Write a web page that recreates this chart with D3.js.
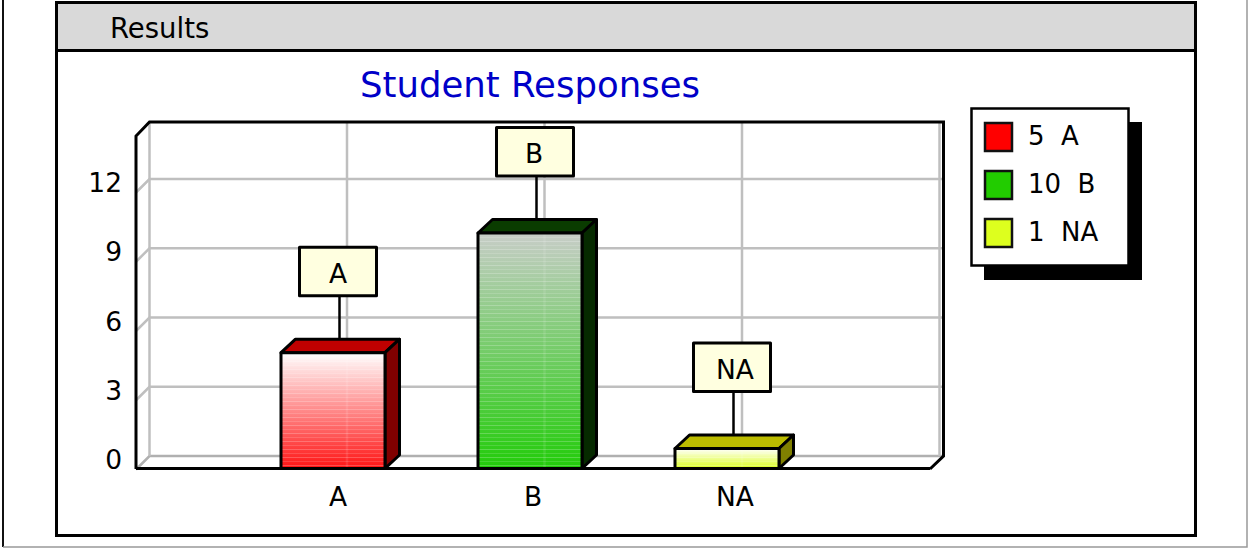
<!DOCTYPE html>
<html><head><meta charset="utf-8">
<script src="https://cdn.jsdelivr.net/npm/d3@7"></script>
<style>html,body{margin:0;padding:0;background:#fff;overflow:hidden}svg{display:block}text{font-family:"DejaVu Sans",sans-serif;fill:#000}</style>
</head><body><svg id="c" width="1248" height="548"></svg>
<script>
const categories=["A","B","NA"];
const values=[5,10,1];
const barColors=["#ff1414","#22cc0a","#dcff1e"];
const topColors=["#c00000","#0a3c00","#bcbc00"];
const sideColors=["#800000","#062a00","#808000"];
const gradTop=["#ffffff","#c8cdc8","#ffffff"];
const legendColors=["#ff0000","#22cc00","#ddff1e"];
const yTicks=[0,3,6,9,12];
const title="Student Responses";
const panelTitle="Results";

const svg=d3.select("#c");
const depthX=13.5, depthY=13.5, barDepthX=14.5;
const y=d3.scaleLinear().domain([0,12]).range([456,179]);
const barY=d3.scaleLinear().domain([1,10]).range([448.5,233]);
const x=d3.scaleBand().domain(categories).range([281,779]).paddingInner(93/197);

// page frame
svg.append("path").attr("d","M3 0V547").attr("stroke","#111").attr("stroke-width",2).attr("fill","none");
svg.append("path").attr("d","M3 547H1247V0").attr("stroke","#999").attr("stroke-width",1.5).attr("fill","none");
// panel
svg.append("rect").attr("x",56.5).attr("y",2.5).attr("width",1139).attr("height",533).attr("fill","#fff").attr("stroke","#000").attr("stroke-width",3);
svg.append("rect").attr("x",56.5).attr("y",2.5).attr("width",1139).attr("height",48).attr("fill","#d9d9d9").attr("stroke","#000").attr("stroke-width",3);
svg.append("text").attr("x",110).attr("y",37.5).attr("font-size",27.5).text(panelTitle);
svg.append("text").attr("x",530).attr("y",97).attr("text-anchor","middle").attr("font-size",35.5).style("fill","#0000c8").text(title);

const L=149.5,R=939.5,T=122;
const G="#bfbfbf";
const grid=svg.append("g").attr("fill","none");
// gridlines
yTicks.forEach(t=>{
  grid.append("path").attr("d",`M${L-depthX} ${y(t)+depthY}L${L} ${y(t)}H${R+4}`).attr("stroke",t===0?"#b0b0b0":G).attr("stroke-width",2.5);
});
[L,347,544.5,742,R].forEach(v=>grid.append("path").attr("d",`M${v} ${T}V456`).attr("stroke",G).attr("stroke-width",2.5));
// black frame
grid.append("path").attr("d",`M136 469V136L${L} ${T}H943.5V456L930 469`).attr("stroke","#000").attr("stroke-width",3);
grid.append("path").attr("d",`M136 468.5H930`).attr("stroke","#000").attr("stroke-width",3);

// y labels
svg.append("g").selectAll("text").data(yTicks).join("text")
  .attr("x",122).attr("y",d=>y(d)+13).attr("text-anchor","end").attr("font-size",26.5).text(d=>d);
// x labels
const labelDx=[5,3,8];
svg.append("g").selectAll("text").data(categories).join("text")
  .attr("x",(d,i)=>x(d)+x.bandwidth()/2+labelDx[i]).attr("y",506).attr("text-anchor","middle").attr("font-size",26.5).text(d=>d);

// gradients and banding
const defs=svg.append("defs");
categories.forEach((c,i)=>{
  const g=defs.append("linearGradient").attr("id","g"+i).attr("x1",0).attr("x2",0).attr("y1",0).attr("y2",1);
  g.append("stop").attr("offset",0).attr("stop-color",gradTop[i]);
  g.append("stop").attr("offset",1).attr("stop-color",barColors[i]);
});
const pat=defs.append("pattern").attr("id","bands").attr("patternUnits","userSpaceOnUse").attr("width",8).attr("height",8);
pat.append("rect").attr("y",1).attr("width",8).attr("height",1).attr("fill","#fff").attr("fill-opacity",0.22);
pat.append("rect").attr("y",5).attr("width",8).attr("height",1).attr("fill","#fff").attr("fill-opacity",0.14);

const bars=svg.append("g").selectAll("g").data(categories).join("g");
function st(s){return s.attr("stroke","#000").attr("stroke-width",3).attr("stroke-linejoin","round");}
const gridBehind=[347,544.5,742];
const boxTextDx=[0,-1,3];
bars.each(function(c,i){
  const g=d3.select(this), x0=x(c), x1=x0+x.bandwidth(), t=barY(values[i]), b=468.5;
  const cx=x0+58.5, top=t-depthY;
  // callout
  g.append("path").attr("d",`M${cx} ${top}V${top-44}`).attr("stroke","#000").attr("stroke-width",2.5);
  st(g.append("rect").attr("x",x0+18.5).attr("y",top-92).attr("width",77).attr("height",48.5).attr("fill","#ffffe0"));
  g.append("text").attr("x",x0+57+boxTextDx[i]).attr("y",top-56.5).attr("text-anchor","middle").attr("font-size",26.5).text(c);
  st(g.append("path").attr("d",`M${x0} ${t}L${x0+barDepthX} ${top}H${x1+barDepthX}L${x1} ${t}Z`).attr("fill",topColors[i]));
  st(g.append("path").attr("d",`M${x1} ${t}L${x1+barDepthX} ${top}V${b-depthY}L${x1} ${b}Z`).attr("fill",sideColors[i]));
  g.append("rect").attr("x",x0).attr("y",t).attr("width",x1-x0).attr("height",b-t).attr("fill",`url(#g${i})`);
  g.append("rect").attr("x",x0).attr("y",t).attr("width",x1-x0).attr("height",b-t).attr("fill","url(#bands)");
  // the gridline showing faintly through the bar
  g.append("path").attr("d",`M${gridBehind[i]} ${t}V${b}`).attr("stroke","#fff").attr("stroke-opacity",0.1).attr("stroke-width",2.5);
  st(g.append("rect").attr("x",x0).attr("y",t).attr("width",x1-x0).attr("height",b-t).attr("fill","none"));
});

// legend
svg.append("rect").attr("x",984).attr("y",122).attr("width",158).attr("height",158).attr("fill","#000");
svg.append("rect").attr("x",971.5).attr("y",108.5).attr("width",157).attr("height",157).attr("fill","#fff").attr("stroke","#000").attr("stroke-width",2.5);
const ly=[137,185,233];
const leg=svg.append("g").selectAll("g").data(categories).join("g");
leg.append("rect").attr("x",985).attr("y",(d,i)=>ly[i]-14).attr("width",27).attr("height",28).attr("fill",(d,i)=>legendColors[i]).attr("stroke","#111").attr("stroke-width",2.5);
leg.append("text").attr("x",1028).attr("y",(d,i)=>ly[i]+7.5).attr("font-size",26).attr("xml:space","preserve").style("white-space","pre").text((d,i)=>`${values[i]}  ${d}`);
</script></body></html>
